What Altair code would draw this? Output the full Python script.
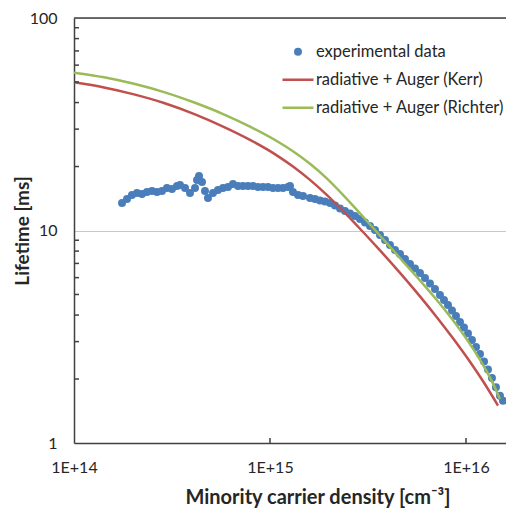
import altair as alt
import pandas as pd

series_names = ["experimental data", "radiative + Auger (Kerr)", "radiative + Auger (Richter)"]
series_colors = ["#4a7ebb", "#c0504d", "#9bbb59"]
series_shapes = ["M0.177,0A0.177,0.177,0,1,1,-0.177,0A0.177,0.177,0,1,1,0.177,0Z", "stroke", "stroke"]

exp_density = [
    1.758e14, 1.864e14, 1.976e14, 2.096e14, 2.223e14, 2.357e14, 2.500e14, 2.651e14, 2.812e14, 2.982e14,
    3.162e14, 3.354e14, 3.474e14, 3.685e14, 3.907e14, 4.144e14, 4.243e14, 4.344e14, 4.499e14, 4.660e14,
    4.827e14, 5.119e14, 5.429e14, 5.757e14, 6.106e14, 6.475e14, 6.867e14, 7.282e14, 7.723e14, 8.190e14,
    8.686e14, 9.211e14, 9.768e14, 1.036e15, 1.099e15, 1.165e15, 1.236e15, 1.265e15, 1.310e15, 1.390e15,
    1.474e15,
    1.600e15, 1.697e15, 1.799e15, 1.908e15, 2.024e15, 2.146e15, 2.276e15, 2.414e15, 2.560e15, 2.715e15,
    2.879e15, 3.053e15, 3.238e15, 3.434e15, 3.641e15, 3.862e15, 4.095e15, 4.344e15, 4.606e15, 4.885e15,
    5.180e15, 5.493e15, 5.825e15, 6.178e15, 6.551e15, 6.948e15, 7.368e15,
    7.723e15, 8.094e15, 8.484e15, 8.892e15, 9.320e15, 9.768e15, 1.024e16, 1.073e16, 1.125e16, 1.179e16,
    1.236e16, 1.295e16, 1.357e16, 1.422e16, 1.491e16, 1.544e16,
]
exp_lifetime = [
    13.47, 14.07, 14.69, 15.01, 14.85, 15.18, 15.34, 15.18, 15.34, 15.85,
    15.68, 16.19, 16.37, 15.85, 15.01, 15.85, 17.29, 18.05, 16.92, 15.34,
    14.22, 15.01, 15.51, 15.85, 16.02, 16.55, 16.19, 16.19, 16.19, 16.19,
    16.02, 16.02, 16.02, 15.85, 15.85, 15.85, 16.02, 16.19, 15.18, 14.69,
    14.54,
    14.22, 14.07, 13.84, 13.69, 13.47, 13.11, 12.69, 12.36, 12.02, 11.70,
    11.33, 10.91, 10.50, 10.05, 9.52, 9.02, 8.55, 8.09, 7.75, 7.34,
    6.96, 6.63, 6.31, 5.98, 5.63, 5.31, 4.97,
    4.71, 4.46, 4.20, 3.96, 3.71, 3.50, 3.28, 3.05, 2.83, 2.62,
    2.42, 2.22, 2.02, 1.83, 1.67, 1.58,
]

kerr_density = [1.000e14, 1.423e14, 2.024e14, 2.879e14, 4.144e14, 5.690e14, 7.907e14, 1.073e15,
                1.310e15, 1.600e15, 1.954e15, 2.357e15, 2.879e15, 3.641e15, 4.606e15, 5.825e15,
                7.112e15, 8.584e15, 1.048e16, 1.236e16, 1.457e16]
kerr_lifetime = [49.8, 47.1, 43.7, 39.8, 35.2, 31.0, 26.7, 22.7,
                 20.0, 17.3, 14.66, 12.36, 10.19, 8.06, 6.32, 4.90,
                 3.90, 3.11, 2.41, 1.92, 1.50]

richter_density = [1.000e14, 1.423e14, 2.024e14, 2.879e14, 4.144e14, 5.690e14, 7.907e14, 1.125e15,
                   1.310e15, 1.600e15, 1.954e15, 2.357e15, 2.879e15, 3.354e15, 4.095e15, 4.770e15,
                   5.825e15, 7.112e15, 8.584e15, 1.048e16, 1.236e16, 1.357e16, 1.491e16]
richter_lifetime = [55.3, 52.6, 49.0, 44.8, 39.9, 35.5, 30.8, 25.8,
                    23.6, 20.6, 17.55, 14.72, 12.04, 10.30, 8.38, 7.15,
                    5.82, 4.70, 3.78, 2.92, 2.29, 1.95, 1.61]

x_domain = [1e14, 1.6e16]
y_domain = [1, 100]
x_ticks = [1e14, 1e15, 1e16]
x_tick_labels = ["1E+14", "1E+15", "1E+16"]
x_inner_ticks = [1e15, 1e16]
y_ticks = [1, 10, 100]
y_tick_labels = ["1", "10", "100"]
y_minor = [2, 3, 4, 5, 6, 7, 8, 9, 20, 30, 40, 50, 60, 70, 80, 90]


def label_expr(vals, labels):
    expr = "''"
    for v, l in reversed(list(zip(vals, labels))):
        expr = f"abs(datum.value / {v!r} - 1) < 0.01 ? '{l}' : ({expr})"
    return expr


exp_df = pd.DataFrame({"density": exp_density, "lifetime": exp_lifetime, "series": series_names[0]})
line_df = pd.concat([
    pd.DataFrame({"density": kerr_density, "lifetime": kerr_lifetime, "series": series_names[1]}),
    pd.DataFrame({"density": richter_density, "lifetime": richter_lifetime, "series": series_names[2]}),
])

W, H = 432, 425
FONT = "Lato"
TXT = "#262626"
AX = "#404040"

xscale = alt.Scale(type="log", domain=x_domain, nice=False)
yscale = alt.Scale(type="log", domain=y_domain, nice=False)

xaxis = alt.Axis(values=x_ticks, labelExpr=label_expr(x_ticks, x_tick_labels),
                 title="Minority carrier density [cm⁻³]", grid=False, ticks=False,
                 labelPadding=16, labelFlush=False, labelOverlap=False, labelFont=FONT,
                 labelFontSize=16, labelColor=TXT, domainColor=AX, domainWidth=1.5,
                 titleFont=FONT, titleFontSize=20, titleFontWeight="bold", titleColor=TXT,
                 titleX=243.5, titleY=60, titleAlign="center", titleBaseline="alphabetic")
yaxis = alt.Axis(values=y_ticks, labelExpr=label_expr(y_ticks, y_tick_labels),
                 title="Lifetime [ms]", grid=True, gridColor="#c8c8c8", gridWidth=1,
                 ticks=False, labelPadding=17, labelOverlap=False, labelFont=FONT,
                 labelFontSize=16, labelColor=TXT, domainColor=AX, domainWidth=1.5,
                 titleFont=FONT, titleFontSize=19, titleFontWeight="bold", titleColor=TXT,
                 titleX=-52, titleY=212.5, titleAngle=270, titleAlign="center",
                 titleBaseline="middle")

leg = alt.Legend(title=None, orient="none", legendX=207, legendY=20, symbolSize=961,
                 symbolStrokeWidth=2.5, clipHeight=27.5, rowPadding=0, labelOffset=1,
                 labelFont=FONT, labelFontSize=16.5, labelColor=TXT, padding=0, labelLimit=400)

color_scale = alt.Scale(domain=series_names, range=series_colors)
shape_scale = alt.Scale(domain=series_names, range=series_shapes)

points = alt.Chart(exp_df).mark_point(filled=True, opacity=1, size=961, strokeWidth=2.5).encode(
    x=alt.X("density:Q", scale=xscale, axis=xaxis),
    y=alt.Y("lifetime:Q", scale=yscale, axis=yaxis),
    fill=alt.Fill("series:N", scale=color_scale, legend=leg),
    stroke=alt.Stroke("series:N", scale=color_scale, legend=leg),
    shape=alt.Shape("series:N", scale=shape_scale, legend=leg),
)

lines = alt.Chart(line_df).mark_line(strokeWidth=2.5, interpolate="monotone").encode(
    x=alt.X("density:Q", scale=xscale, axis=xaxis),
    y=alt.Y("lifetime:Q", scale=yscale, axis=yaxis),
    stroke=alt.Stroke("series:N", scale=color_scale, legend=None),
)

top_rule = alt.Chart(pd.DataFrame({"lifetime": [y_domain[1]]})).mark_rule(
    color=AX, strokeWidth=1.5).encode(y=alt.Y("lifetime:Q", scale=yscale, axis=yaxis))

minor = alt.Chart(pd.DataFrame({"lifetime": y_minor})).mark_rule(
    color=AX, strokeWidth=1.5).encode(
    y=alt.Y("lifetime:Q", scale=yscale, axis=yaxis), x=alt.value(0), x2=alt.value(5))

xt = alt.Chart(pd.DataFrame({"density": x_inner_ticks})).mark_rule(
    color=AX, strokeWidth=1.5).encode(
    x=alt.X("density:Q", scale=xscale, axis=xaxis), y=alt.value(H), y2=alt.value(H - 5))

chart = alt.layer(points, lines, top_rule, minor, xt).properties(
    width=W, height=H, autosize="none",
    padding={"left": 66, "top": 10, "right": 0, "bottom": 66},
    background="white",
).configure_view(stroke=None)

chart.save("out.html", embed_options={"renderer": "svg", "actions": False})
